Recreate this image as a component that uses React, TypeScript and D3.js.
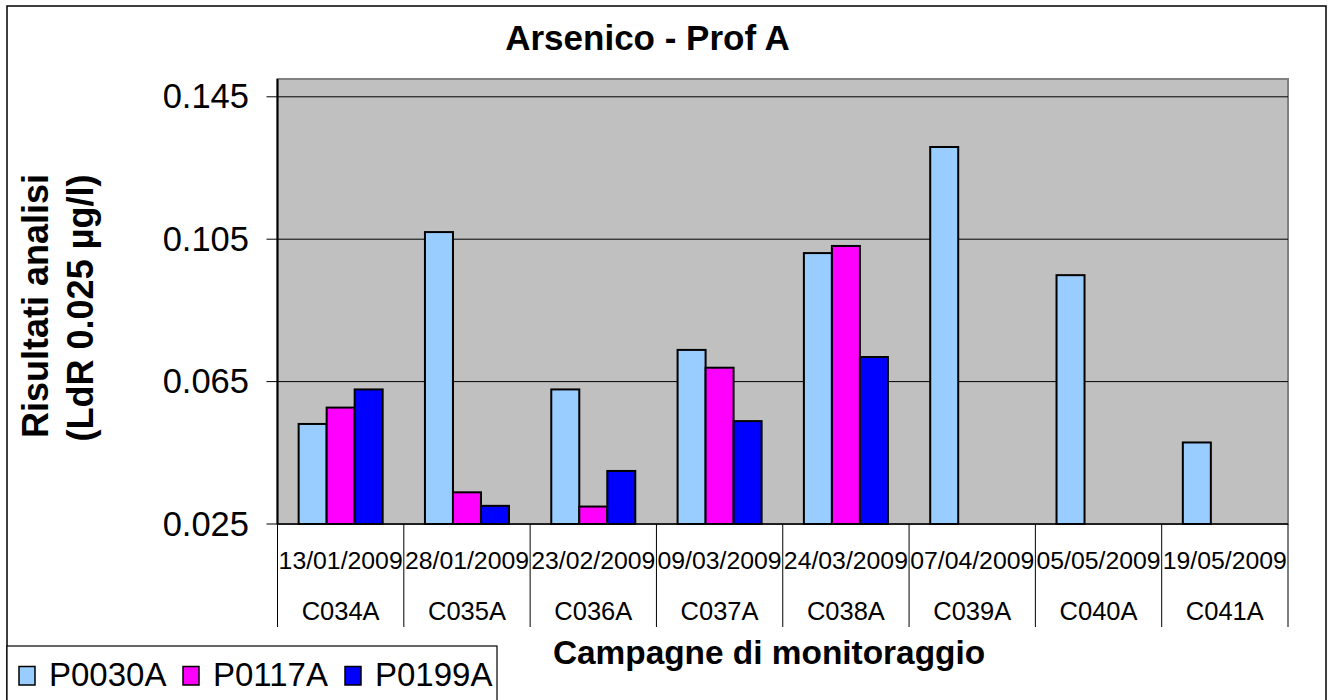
import React from "react";
import * as d3 from "d3";

const dates = ["13/01/2009", "28/01/2009", "23/02/2009", "09/03/2009", "24/03/2009", "07/04/2009", "05/05/2009", "19/05/2009"];
const codes = ["C034A", "C035A", "C036A", "C037A", "C038A", "C039A", "C040A", "C041A"];
const seriesNames = ["P0030A", "P0117A", "P0199A"];
const seriesColors = ["#99CCFF", "#FF00FF", "#0000FF"];
const p0030A = [0.0531, 0.107, 0.0628, 0.0739, 0.1011, 0.1309, 0.0949, 0.0479];
const p0117A = [0.0577, 0.0339, 0.0299, 0.0689, 0.1031, null, null, null];
const p0199A = [0.0628, 0.0301, 0.0399, 0.0539, 0.0719, null, null, null];
const yTicks = [0.025, 0.065, 0.105, 0.145];
const yDomain = [0.025, 0.15];

const FONT = "'Liberation Sans', Arial, Helvetica, sans-serif";

export default function App() {
  const W = 1332, H = 700;
  const left = 277.5, right = 1288, top = 79, bottom = 524;
  const values = [p0030A, p0117A, p0199A];

  const x0 = d3.scaleBand<number>().domain(d3.range(codes.length)).range([left, right]).padding(0);
  const x1 = d3.scaleBand<number>().domain(d3.range(seriesNames.length)).range([0, x0.bandwidth()]).paddingInner(0).paddingOuter(0.755);
  const y = d3.scaleLinear().domain(yDomain).range([bottom, top]);

  const legendX = [19, 183, 345];

  return (
    <svg width={W} height={H} style={{ position: "absolute", left: 0, top: 0, background: "#fff" }} fontFamily={FONT}>
      <rect x={0} y={0} width={W} height={H} fill="#fff" />
      {/* outer border */}
      <rect x={7} y={6} width={1319} height={700} fill="none" stroke="#000" strokeWidth={1.5} />
      {/* title */}
      <text x={647.5} y={50} textAnchor="middle" fontSize={35} fontWeight="bold">Arsenico - Prof A</text>

      {/* plot area */}
      <rect x={left} y={top} width={right - left} height={bottom - top} fill="#C0C0C0" stroke="#808080" strokeWidth={2} />

      {/* gridlines */}
      {yTicks.filter((t) => t !== yDomain[0]).map((t) => (
        <line key={"g" + t} x1={left} x2={right} y1={y(t)} y2={y(t)} stroke="#000" strokeWidth={1} />
      ))}

      {/* bars */}
      {values.map((vals, si) =>
        vals.map((v, ci) =>
          v == null ? null : (
            <rect
              key={si + "-" + ci}
              x={(x0(ci) as number) + (x1(si) as number)}
              y={y(v)}
              width={x1.bandwidth()}
              height={bottom - y(v)}
              fill={seriesColors[si]}
              stroke="#000"
              strokeWidth={2}
            />
          )
        )
      )}

      {/* y axis */}
      <line x1={left} x2={left} y1={top} y2={bottom} stroke="#000" strokeWidth={2} />
      {yTicks.map((t) => (
        <g key={"t" + t}>
          <line x1={left - 11} x2={left} y1={y(t)} y2={y(t)} stroke="#000" strokeWidth={1} />
          <text x={249} y={y(t) + 11.5} textAnchor="end" fontSize={34.5}>{t.toFixed(3)}</text>
        </g>
      ))}

      {/* x axis */}
      <line x1={left} x2={right} y1={bottom} y2={bottom} stroke="#000" strokeWidth={1.5} />
      {d3.range(codes.length + 1).map((i) => {
        const xx = left + i * x0.step();
        return <line key={"d" + i} x1={xx} x2={xx} y1={bottom} y2={627} stroke="#000" strokeWidth={1} />;
      })}
      {codes.map((c, i) => {
        const cx = (x0(i) as number) + x0.bandwidth() / 2;
        return (
          <g key={"c" + c}>
            <text x={cx} y={569} textAnchor="middle" fontSize={24.8}>{dates[i]}</text>
            <text x={cx} y={620} textAnchor="middle" fontSize={25.5}>{c}</text>
          </g>
        );
      })}

      {/* axis titles */}
      <text transform="translate(48,306) rotate(-90)" textAnchor="middle" fontSize={36} fontWeight="bold">Risultati analisi</text>
      <text transform="translate(93,308) rotate(-90)" textAnchor="middle" fontSize={36} fontWeight="bold">(LdR 0.025 µg/l)</text>
      <text x={769} y={664} textAnchor="middle" fontSize={33.4} fontWeight="bold">Campagne di monitoraggio</text>

      {/* legend */}
      <rect x={7} y={646} width={490} height={70} fill="#fff" stroke="#000" strokeWidth={1.2} />
      {seriesNames.map((n, i) => (
        <g key={"l" + n}>
          <rect x={legendX[i]} y={666.5} width={16} height={18.5} fill={seriesColors[i]} stroke="#000" strokeWidth={1.5} />
          <text x={legendX[i] + 30} y={685.5} fontSize={33}>{n}</text>
        </g>
      ))}
    </svg>
  );
}
